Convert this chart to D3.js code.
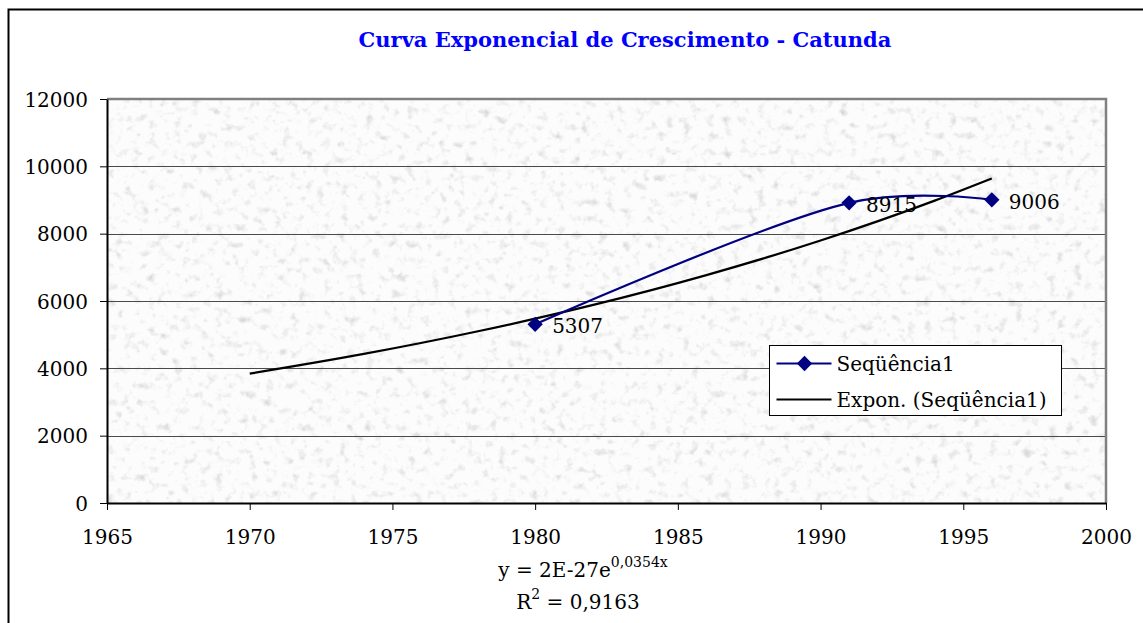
<!DOCTYPE html>
<html>
<head>
<meta charset="utf-8">
<script src="https://cdn.jsdelivr.net/npm/d3@7"></script>
<style>
  body { margin: 0; background: #fff; }
  svg text { font-family: "DejaVu Serif", "Liberation Serif", serif; }
</style>
</head>
<body>
<div id="chart"></div>
<script>
// Data
let years = [1980, 1991, 1996];
let values = [5307, 8915, 9006];
// exponential trend line (Excel "Expon.")
let trend_years = [1970, 1974, 1978, 1982, 1986, 1990, 1994, 1996];
let trend_values = [3844, 4428, 5101, 5876, 6769, 7797, 8982, 9641];
let x_ticks = [1965, 1970, 1975, 1980, 1985, 1990, 1995, 2000];
let y_ticks = [0, 2000, 4000, 6000, 8000, 10000, 12000];
let title = "Curva Exponencial de Crescimento - Catunda";
let series_name = "Seqüência1";
let trend_name = "Expon. (Seqüência1)";

let W = 1143, H = 623;
let margin = { top: 99, left: 107, right: 1143 - 1106, bottom: 623 - 503 };
let width = W - margin.left - margin.right,
    height = H - margin.top - margin.bottom;

let svg = d3.select("#chart")
    .append("svg")
        .attr("width", W)
        .attr("height", H);

// Outer chart border (runs off the right and bottom)
svg.append("rect")
    .attr("x", 8.5)
    .attr("y", 9.5)
    .attr("width", W + 20)
    .attr("height", H + 20)
    .attr("fill", "#fff")
    .attr("stroke", "#000")
    .attr("stroke-width", 2);

// Granite-like texture for the plot area
let defs = svg.append("defs");
let filter = defs.append("filter")
    .attr("id", "granite")
    .attr("x", 0).attr("y", 0).attr("width", 1).attr("height", 1);
filter.append("feTurbulence")
    .attr("type", "fractalNoise")
    .attr("baseFrequency", 0.12)
    .attr("numOctaves", 3)
    .attr("seed", 4);
filter.append("feColorMatrix")
    .attr("type", "matrix")
    .attr("values", "0.4 0.4 0.4 0 0.42  0.4 0.4 0.4 0 0.42  0.4 0.4 0.4 0 0.42  0 0 0 0 1");

let g = svg.append("g")
    .attr("transform", "translate(" + margin.left + "," + margin.top + ")");

let x_scale = d3.scaleLinear().domain([1965, 2000]).range([0, width]);
let y_scale = d3.scaleLinear().domain([0, 12000]).range([height, 0]);

// Plot background
g.append("rect")
    .attr("width", width)
    .attr("height", height)
    .attr("fill", "#e6e6e6");
g.append("rect")
    .attr("width", width)
    .attr("height", height)
    .attr("filter", "url(#granite)")
    .attr("opacity", 0.9);

// Horizontal grid lines
g.append("g")
    .selectAll("line")
    .data(y_ticks.filter(d => d > 0 && d < 12000))
    .enter()
    .append("line")
        .attr("x1", 0)
        .attr("x2", width)
        .attr("y1", d => Math.round(y_scale(d)) + 0.5)
        .attr("y2", d => Math.round(y_scale(d)) + 0.5)
        .attr("stroke", "#4a4a4a")
        .attr("stroke-width", 1);

// Plot area border (gray top and right)
g.append("path")
    .attr("d", "M0,0H" + width + "V" + height)
    .attr("fill", "none")
    .attr("stroke", "#808080")
    .attr("stroke-width", 2.5);

// Axes
let x_axis = g.append("g")
    .attr("transform", "translate(0," + height + ")")
    .call(d3.axisBottom(x_scale).tickValues(x_ticks).tickFormat(d3.format("d")).tickSize(7).tickSizeOuter(0).tickPadding(20));
let y_axis = g.append("g")
    .call(d3.axisLeft(y_scale).tickValues(y_ticks).tickFormat(d3.format("d")).tickSize(7).tickSizeOuter(0).tickPadding(12));
[x_axis, y_axis].forEach(a => {
    a.select(".domain").attr("stroke", "#000").attr("stroke-width", 2);
    a.selectAll(".tick line").attr("stroke", "#000");
    a.selectAll(".tick text")
        .attr("fill", "#000")
        .style("font-family", "'DejaVu Serif', serif")
        .style("font-size", "20px");
});
x_axis.selectAll(".tick text").attr("dy", "0.71em");
y_axis.selectAll(".tick text").attr("dy", "0.35em");

// Trend line
let pts_trend = trend_years.map((d, i) => ({ x: d, y: trend_values[i] }));
g.append("path")
    .datum(pts_trend)
    .attr("fill", "none")
    .attr("stroke", "#000")
    .attr("stroke-width", 2.2)
    .attr("d", d3.line()
        .x(d => x_scale(d.x))
        .y(d => y_scale(d.y))
        .curve(d3.curveMonotoneX));

// Smoothed data line
let pts = years.map((d, i) => ({ x: d, y: values[i] }));
g.append("path")
    .datum(pts)
    .attr("fill", "none")
    .attr("stroke", "#000080")
    .attr("stroke-width", 2.2)
    .attr("d", d3.line()
        .x(d => x_scale(d.x))
        .y(d => y_scale(d.y))
        .curve(d3.curveCatmullRom.alpha(0.3)));

// Markers
let diamond = d3.symbol().type(d3.symbolDiamond2).size(150);
g.selectAll(".marker")
    .data(pts)
    .enter()
    .append("path")
        .attr("class", "marker")
        .attr("transform", d => "translate(" + x_scale(d.x) + "," + y_scale(d.y) + ")")
        .attr("d", diamond)
        .attr("fill", "#000080");

// Data labels
g.selectAll(".label")
    .data(pts)
    .enter()
    .append("text")
        .attr("class", "label")
        .attr("x", d => x_scale(d.x) + 17)
        .attr("y", d => y_scale(d.y))
        .attr("dy", "0.45em")
        .style("font-size", "20px")
        .attr("fill", "#000")
        .text(d => d.y);

// Title
svg.append("text")
    .attr("x", 625)
    .attr("y", 47)
    .style("text-anchor", "middle")
    .style("font-size", "21px")
    .style("font-weight", "bold")
    .attr("fill", "#0000ff")
    .text(title);

// Legend
let legend = svg.append("g").attr("transform", "translate(769.5,345.5)");
legend.append("rect")
    .attr("width", 292)
    .attr("height", 70)
    .attr("fill", "#fff")
    .attr("stroke", "#000")
    .attr("stroke-width", 1);
legend.append("line")
    .attr("x1", 7).attr("x2", 62).attr("y1", 18).attr("y2", 18)
    .attr("stroke", "#000080").attr("stroke-width", 2.2);
legend.append("path")
    .attr("transform", "translate(35,18)")
    .attr("d", diamond)
    .attr("fill", "#000080");
legend.append("text")
    .attr("x", 67).attr("y", 18).attr("dy", "0.35em")
    .style("font-size", "20px")
    .text(series_name);
legend.append("line")
    .attr("x1", 7).attr("x2", 62).attr("y1", 54).attr("y2", 54)
    .attr("stroke", "#000").attr("stroke-width", 2.2);
legend.append("text")
    .attr("x", 67).attr("y", 54).attr("dy", "0.35em")
    .style("font-size", "20px")
    .text(trend_name);

// Trend equation and R²
let eq = svg.append("text")
    .attr("x", 583)
    .attr("y", 577)
    .style("text-anchor", "middle")
    .style("font-size", "20px");
eq.append("tspan").text("y = 2E-27e");
eq.append("tspan").attr("dy", -10).style("font-size", "14px").text("0,0354x");
let r2 = svg.append("text")
    .attr("x", 578)
    .attr("y", 609)
    .style("text-anchor", "middle")
    .style("font-size", "20px");
r2.append("tspan").text("R");
r2.append("tspan").attr("dy", -10).style("font-size", "14px").text("2");
r2.append("tspan").attr("dy", 10).text(" = 0,9163");
</script>
</body>
</html>
